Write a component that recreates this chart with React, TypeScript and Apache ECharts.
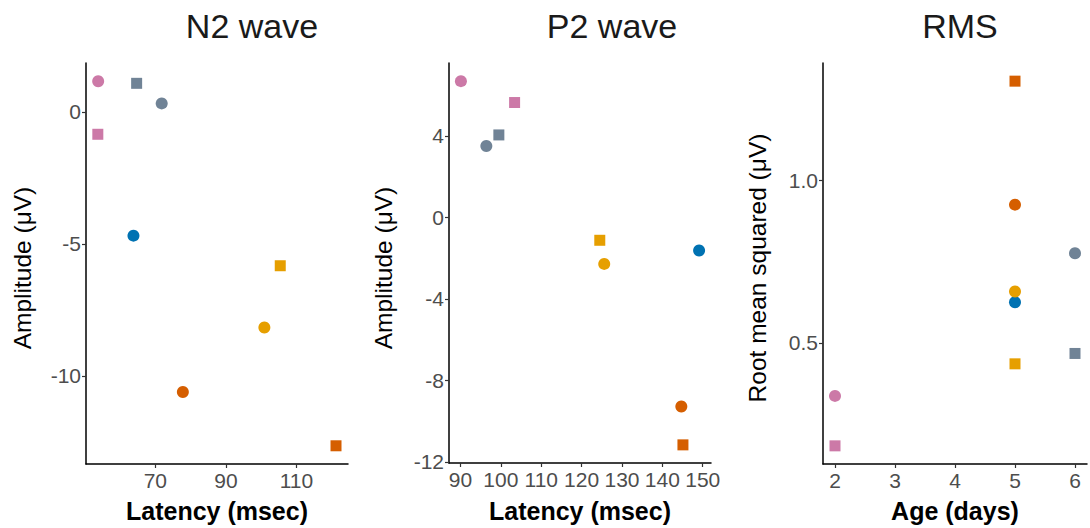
import React, { useEffect, useRef } from "react";
import * as echarts from "echarts";

const groupColors = ["#CC79A7", "#708396", "#0072B2", "#E69F00", "#D55E00"];

const n2CircleLatency = [53.8, 71.8, 63.8, 100.9, 77.8];
const n2CircleAmp = [1.16, 0.32, -4.69, -8.17, -10.61];
const n2SquareLatency = [53.7, 64.7, null, 105.4, 121.2];
const n2SquareAmp = [-0.85, 1.08, null, -5.83, -12.65];

const p2CircleLatency = [90.1, 96.4, 149.1, 125.6, 144.7];
const p2CircleAmp = [6.69, 3.51, -1.62, -2.28, -9.28];
const p2SquareLatency = [103.4, 99.5, null, 124.5, 145.1];
const p2SquareAmp = [5.64, 4.05, null, -1.12, -11.16];

const rmsCircleAge = [2, 6, 5, 5, 5];
const rmsCircleVal = [0.336, 0.776, 0.625, 0.658, 0.926];
const rmsSquareAge = [2, 6, null, 5, 5];
const rmsSquareVal = [0.182, 0.467, null, 0.435, 1.307];

const n2XTicks = [70, 90, 110];
const n2YTicks = [-10, -5, 0];
const p2XTicks = [90, 100, 110, 120, 130, 140, 150];
const p2YTicks = [-12, -8, -4, 0, 4];
const rmsXTicks = [2, 3, 4, 5, 6];
const rmsYTicks = [0.5, 1.0];

const titles = ["N2 wave", "P2 wave", "RMS"];
const xNames = ["Latency (msec)", "Latency (msec)", "Age (days)"];
const yNames = ["Amplitude (\u03bcV)", "Amplitude (\u03bcV)", "Root mean squared (\u03bcV)"];

function pts(xs: (number | null)[], ys: (number | null)[]) {
  const out: any[] = [];
  xs.forEach((x, i) => {
    const y = ys[i];
    if (x == null || y == null) return;
    out.push({ value: [x, y], itemStyle: { color: groupColors[i], opacity: 1 } });
  });
  return out;
}

const FONT = "Liberation Sans, Arial, sans-serif";

function makeAxis(gridIndex: number, min: number, max: number, ticks: number[], isX: boolean, fmt?: (v: number) => string) {
  return {
    type: "value",
    gridIndex,
    min,
    max,
    splitLine: { show: false },
    axisLine: { show: true, onZero: false, lineStyle: { color: "#000", width: 1.5 } },
    axisTick: { show: true, length: 4, customValues: ticks, lineStyle: { color: "#333", width: 1.2 } },
    axisLabel: {
      customValues: ticks,
      color: "#4d4d4d",
      fontSize: 21,
      fontFamily: FONT,
      margin: isX ? 6 : 5,
      formatter: fmt ? (v: number) => fmt(v) : (v: number) => String(v),
    },
  };
}

export default function App() {
  const ref = useRef<HTMLDivElement>(null);
  useEffect(() => {
    if (!ref.current) return;
    const chart = echarts.init(ref.current, null, { renderer: "svg" });
    const grids = [
      { left: 86, top: 63, width: 262, height: 401 },
      { left: 449, top: 63, width: 262, height: 400 },
      { left: 823, top: 63, width: 264, height: 401 },
    ];
    const sq = (data: any[], xi: number) => ({
      type: "scatter",
      xAxisIndex: xi,
      yAxisIndex: xi,
      symbol: "rect",
      symbolSize: 11,
      data,
    });
    const ci = (data: any[], xi: number) => ({
      type: "scatter",
      xAxisIndex: xi,
      yAxisIndex: xi,
      symbol: "circle",
      symbolSize: 12,
      data,
    });
    const titleX = [252, 612, 960];
    const yNameX = [22.5, 383, 757.5];
    const xNameX = [217, 580, 955];
    const graphics: any[] = [];
    titles.forEach((t, i) => {
      graphics.push({
        type: "text",
        x: titleX[i],
        y: 26,
        style: { text: t, fontSize: 34, fontFamily: FONT, fill: "#1a1a1a", align: "center", verticalAlign: "middle" },
      });
      graphics.push({
        type: "text",
        x: xNameX[i],
        y: 511,
        style: { text: xNames[i], fontSize: 25, fontWeight: "bold", fontFamily: FONT, fill: "#000", align: "center", verticalAlign: "middle" },
      });
      graphics.push({
        type: "text",
        x: yNameX[i],
        y: 268,
        rotation: Math.PI / 2,
        style: { text: yNames[i], fontSize: 24.5, fontFamily: FONT, fill: "#000", align: "center", verticalAlign: "middle" },
      });
    });
    chart.setOption({
      animation: false,
      backgroundColor: "#fff",
      grid: grids,
      xAxis: [
        makeAxis(0, 50.35, 124.6, n2XTicks, true),
        makeAxis(1, 87.15, 152.05, p2XTicks, true),
        makeAxis(2, 1.8, 6.2, rmsXTicks, true),
      ],
      yAxis: [
        makeAxis(0, -13.34, 1.85, n2YTicks, false),
        makeAxis(1, -12.05, 7.58, p2YTicks, false),
        makeAxis(2, 0.126, 1.363, rmsYTicks, false, (v) => v.toFixed(1)),
      ],
      series: [
        ci(pts(n2CircleLatency, n2CircleAmp), 0),
        sq(pts(n2SquareLatency, n2SquareAmp), 0),
        ci(pts(p2CircleLatency, p2CircleAmp), 1),
        sq(pts(p2SquareLatency, p2SquareAmp), 1),
        ci(pts(rmsCircleAge, rmsCircleVal), 2),
        sq(pts(rmsSquareAge, rmsSquareVal), 2),
      ],
      graphic: graphics,
    });
    return () => chart.dispose();
  }, []);
  return <div ref={ref} style={{ position: "fixed", left: 0, top: 0, width: 1090, height: 528 }} />;
}
